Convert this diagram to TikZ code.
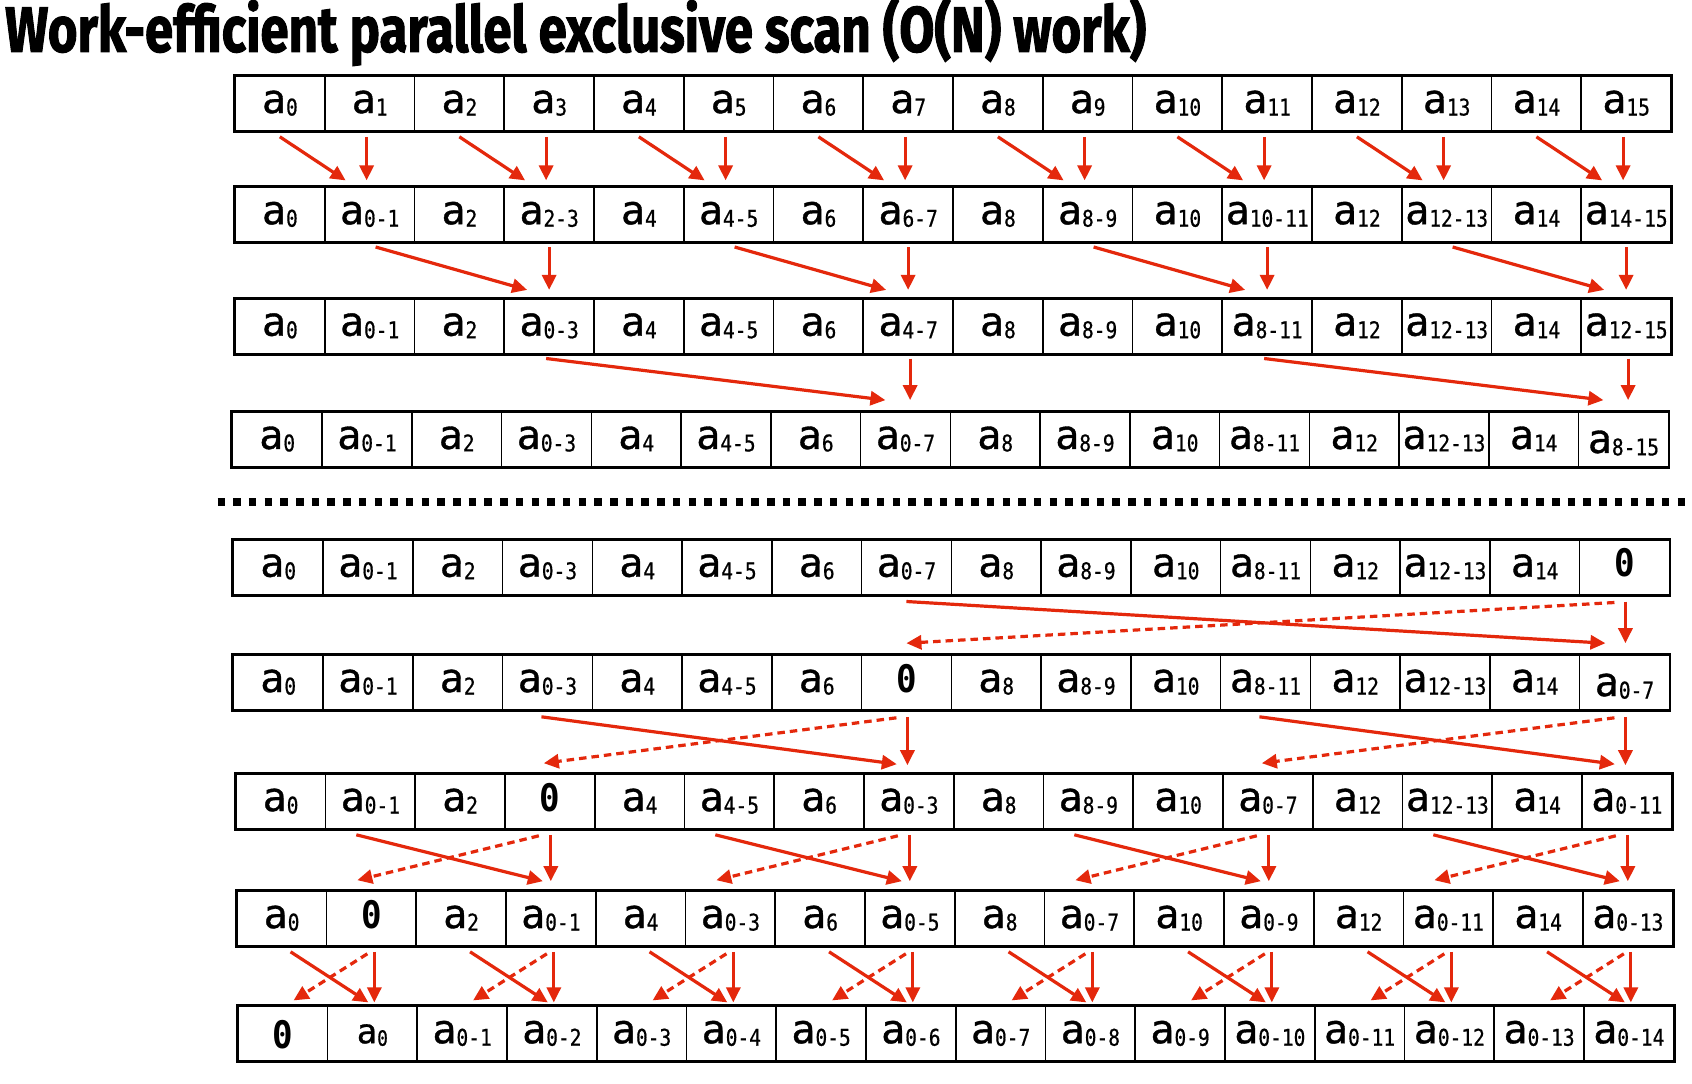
\documentclass[tikz,border=0pt]{standalone}
\usepackage{fontspec}
\usepackage{graphicx}
\usetikzlibrary{calc,arrows.meta}
\newfontfamily\monof{DejaVu Sans Mono}[FakeBold=0.9]
\newfontfamily\zerof{DejaVu Sans Mono}[FakeStretch=0.9]
\newfontfamily\subf{DejaVu Sans Mono}[FakeStretch=0.85, FakeBold=0.6]
\newfontfamily\titlef{Fira Sans}[BoldFeatures={FakeBold=1.8}]
\definecolor{arr}{RGB}{228,40,12}
\newcommand\cA[1]{{\monof\fontsize{40}{40}\selectfont a}\lower2.5pt\hbox{\subf\fontsize{23}{23}\selectfont #1}}
\newcommand\cAlow[1]{\lower4pt\hbox{\cA{#1}}}
\newcommand\cAsmall[1]{{\monof\fontsize{34}{34}\selectfont a}\lower2.5pt\hbox{\subf\fontsize{21}{21}\selectfont #1}}
\newcommand\zr{{\zerof\bfseries\fontsize{38}{38}\selectfont 0}}
\newcommand\zrlow{\lower5pt\hbox{\zr}}
\tikzset{
  cell/.style={draw, line width=1.6pt, minimum width=89.75pt, minimum height=55pt,
    inner sep=0pt, text height=37pt, text depth=18pt, anchor=center},
  rowframe/.style={draw, line width=2.6pt},
  sol/.style={draw=arr, line width=3.2pt, -{Triangle[length=15pt,width=14pt]}},
  dot/.style={sol, dash pattern=on 7.5pt off 5pt},
}
\newcommand\cellrow[4]{%
  \foreach \cc [count=\j from 0] in {#4} {
    \node[cell] (r#1c\j) at ({#2+(\j+0.5)*89.75}, #3) {\cc};
  }
  \draw[rowframe] (r#1c0.north west) rectangle (r#1c15.south east);
}
\begin{document}
\begin{tikzpicture}[x=1pt,y=-1pt]
\fill[white] (0,0) rectangle (1692,1084);
\useasboundingbox (0,0) rectangle (1692,1084);
\node[anchor=base west, inner sep=0pt] (title) at (5,51.7)
  {\resizebox{1141pt}{\height}{\titlef\bfseries\fontsize{64}{64}\selectfont Work-efficient parallel exclusive scan (O(N) work)}};

\cellrow{1}{235}{103.5}{\cA{0},\cA{1},\cA{2},\cA{3},\cA{4},\cA{5},\cA{6},\cA{7},\cA{8},\cA{9},\cA{10},\cA{11},\cA{12},\cA{13},\cA{14},\cA{15}}
\cellrow{2}{235}{214.7}{\cA{0},\cA{0-1},\cA{2},\cA{2-3},\cA{4},\cA{4-5},\cA{6},\cA{6-7},\cA{8},\cA{8-9},\cA{10},\cA{10-11},\cA{12},\cA{12-13},\cA{14},\cA{14-15}}
\cellrow{3}{235}{326.2}{\cA{0},\cA{0-1},\cA{2},\cA{0-3},\cA{4},\cA{4-5},\cA{6},\cA{4-7},\cA{8},\cA{8-9},\cA{10},\cA{8-11},\cA{12},\cA{12-13},\cA{14},\cA{12-15}}
\cellrow{4}{232.3}{439.4}{\cA{0},\cA{0-1},\cA{2},\cA{0-3},\cA{4},\cA{4-5},\cA{6},\cA{0-7},\cA{8},\cA{8-9},\cA{10},\cA{8-11},\cA{12},\cA{12-13},\cA{14},\cAlow{8-15}}
\cellrow{5}{233.3}{567.2}{\cA{0},\cA{0-1},\cA{2},\cA{0-3},\cA{4},\cA{4-5},\cA{6},\cA{0-7},\cA{8},\cA{8-9},\cA{10},\cA{8-11},\cA{12},\cA{12-13},\cA{14},\zr}
\cellrow{6}{233.3}{682.5}{\cA{0},\cA{0-1},\cA{2},\cA{0-3},\cA{4},\cA{4-5},\cA{6},\zr,\cA{8},\cA{8-9},\cA{10},\cA{8-11},\cA{12},\cA{12-13},\cA{14},\cAlow{0-7}}
\cellrow{7}{235.7}{801.5}{\cA{0},\cA{0-1},\cA{2},\zr,\cA{4},\cA{4-5},\cA{6},\cA{0-3},\cA{8},\cA{8-9},\cA{10},\cA{0-7},\cA{12},\cA{12-13},\cA{14},\cA{0-11}}
\cellrow{8}{236.7}{918.5}{\cA{0},\zr,\cA{2},\cA{0-1},\cA{4},\cA{0-3},\cA{6},\cA{0-5},\cA{8},\cA{0-7},\cA{10},\cA{0-9},\cA{12},\cA{0-11},\cA{14},\cA{0-13}}
\cellrow{9}{237.7}{1033.7}{\zrlow,\cAsmall{0},\cA{0-1},\cA{0-2},\cA{0-3},\cA{0-4},\cA{0-5},\cA{0-6},\cA{0-7},\cA{0-8},\cA{0-9},\cA{0-10},\cA{0-11},\cA{0-12},\cA{0-13},\cA{0-14}}

% separator
\coordinate (sepL) at (217.5,501.7);
\coordinate (sepR) at (1692,501.7);
\draw[line width=8pt, dash pattern=on 7.5pt off 8.2pt] (sepL) -- (sepR);

% up-sweep level 1
\foreach \L/\R in {0/1,2/3,4/5,6/7,8/9,10/11,12/13,14/15} {
  \draw[sol] ($(r1c\L.south)+(0,5)$) -- ($(r2c\R.north)+(-24,-6)$);
  \draw[sol] ($(r1c\R.south)+(-3,5)$) -- ($(r1c\R.south |- r2c\R.north)+(-3,-6)$);
}
% up-sweep level 2
\foreach \L/\R in {1/3,5/7,9/11,13/15} {
  \draw[sol] ($(r2c\L.south)+(6,4)$) -- ($(r3c\R.north)+(-22,-8)$);
  \draw[sol] ($(r2c\R.south)+(0,4)$) -- ($(r2c\R.south |- r3c\R.north)+(0,-8)$);
}
% up-sweep level 3
\foreach \L/\R in {3/7,11/15} {
  \draw[sol] ($(r3c\L.south)+(-3,4)$) -- ($(r4c\R.north)+(-20,-11)$);
  \draw[sol] ($(r3c\R.south)+(2,4)$) -- ($(r3c\R.south |- r4c\R.north)+(2,-11)$);
}
% down-sweep level 1
\foreach \L/\R in {7/15} {
  \draw[sol] ($(r5c\L.south)+(0,6)$) -- ($(r6c\R.north)+(-19,-11)$);
  \draw[dot] ($(r5c\R.south)+(-10,7)$) -- ($(r6c\L.north)+(0,-11)$);
  \draw[sol] ($(r5c\R.south)+(1,6)$) -- ($(r5c\R.south |- r6c\R.north)+(1,-11)$);
}
% down-sweep level 2
\foreach \L/\R in {3/7,11/15} {
  \draw[sol] ($(r6c\L.south)+(-6,6)$) -- ($(r7c\R.north)+(-12,-9)$);
  \draw[dot] ($(r6c\R.south)+(-10,7)$) -- ($(r7c\L.north)+(-6,-10)$);
  \draw[sol] ($(r6c\R.south)+(1,6)$) -- ($(r6c\R.south |- r7c\R.north)+(1,-8)$);
}
% down-sweep level 3
\foreach \L/\R in {1/3,5/7,9/11,13/15} {
  \draw[sol] ($(r7c\L.south)+(-14,5)$) -- ($(r8c\R.north)+(-8,-9)$);
  \draw[dot] ($(r7c\R.south)+(-11,6)$) -- ($(r8c\L.north)+(-14,-10)$);
  \draw[sol] ($(r7c\R.south)+(1,5)$) -- ($(r7c\R.south |- r8c\R.north)+(1,-9)$);
}
% down-sweep level 4
\foreach \L/\R in {0/1,2/3,4/5,6/7,8/9,10/11,12/13,14/15} {
  \draw[sol] ($(r8c\L.south)+(9,5)$) -- ($(r9c\R.north)+(-4,-3)$);
  \draw[dot] ($(r8c\R.south)+(-4,7)$) -- ($(r9c\L.north)+(11,-5)$);
  \draw[sol] ($(r8c\R.south)+(3,5)$) -- ($(r8c\R.south |- r9c\R.north)+(3,-3)$);
}
\end{tikzpicture}
\end{document}
